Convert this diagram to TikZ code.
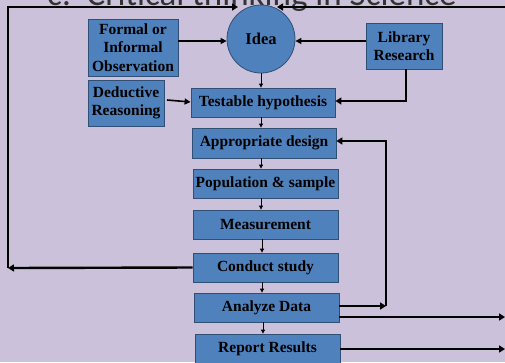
\documentclass[tikz,border=0pt]{standalone}
\usepackage{fontspec}
\setmainfont{Liberation Serif}
\newfontfamily\titlefont{Carlito}
\usetikzlibrary{arrows.meta}
\definecolor{bg}{HTML}{CBC1DB}
\definecolor{boxfill}{HTML}{4F81BD}
\definecolor{boxline}{HTML}{2F4F75}
\definecolor{titlegray}{HTML}{333333}
\tikzset{
  stepbox/.style={rectangle, draw=boxline, line width=0.8pt, fill=boxfill,
    font=\fontsize{15.5}{18.5}\selectfont\bfseries, align=center, inner sep=0pt},
  ideanode/.style={circle, draw=boxline, line width=0.8pt, fill=boxfill,
    font=\fontsize{16.5}{19}\selectfont\bfseries, minimum size=68pt, inner sep=0pt},
  thin arrow/.style={line width=0.8pt, -{Triangle[length=4pt,width=4pt]}},
  thick arrow/.style={line width=2.4pt, -{Triangle[length=6pt,width=7pt]}},
}
\begin{document}
\begin{tikzpicture}[x=1pt,y=-1pt]
\useasboundingbox[fill=bg] (0,0) rectangle (505,362);
\begin{scope}
\clip (0,0) rectangle (505,362);
\node[anchor=base west, font=\titlefont\fontsize{35}{40}\selectfont, text=titlegray, inner sep=0pt] (title) at (47,5) {c.\ \ Critical thinking in Science};

\node[ideanode] (idea) at (261,39) {Idea};
\node[stepbox, minimum width=90pt, minimum height=57pt] (obs) at (133,47.5) {Formal or\\Informal\\Observation};
\node[stepbox, minimum width=76pt, minimum height=46pt] (lib) at (404,46) {Library\\Research};
\node[stepbox, minimum width=76pt, minimum height=46pt] (ded) at (126,103) {Deductive\\Reasoning};
\node[stepbox, minimum width=144pt, minimum height=29pt] (hyp) at (263,102.5) {Testable hypothesis};
\node[stepbox, minimum width=144pt, minimum height=30pt] (des) at (264,143) {Appropriate design};
\node[stepbox, minimum width=145pt, minimum height=29pt] (pop) at (265.5,183.5) {Population \& sample};
\node[stepbox, minimum width=145pt, minimum height=29pt] (mea) at (265.5,224.5) {Measurement};
\node[stepbox, minimum width=145pt, minimum height=29pt] (con) at (265.5,267.5) {Conduct study};
\node[stepbox, minimum width=145pt, minimum height=29pt] (ana) at (266.5,307.5) {Analyze Data};
\node[stepbox, minimum width=145pt, minimum height=30pt] (rep) at (267.5,349) {Report Results};

\coordinate (lcorner) at (8,268);
\coordinate (ltop) at (8,7);
\coordinate (rtop) at (506,7);
\coordinate (rloop) at (386,306);
\coordinate (redge1) at (505,317);
\coordinate (redge2) at (505,349);

% chain
\draw[thin arrow] (idea.south) -- (idea.south |- hyp.north);
\draw[thin arrow] (hyp.south -| 261,0) -- (des.north -| 261,0);
\draw[thin arrow] (des.south -| 261,0) -- (pop.north -| 261,0);
\draw[thin arrow] (pop.south -| 261,0) -- (mea.north -| 261,0);
\draw[thin arrow] (mea.south -| 262,0) -- (con.north -| 262,0);
\draw[thin arrow] (con.south -| 262,0) -- (ana.north -| 262,0);
\draw[thin arrow] (ana.south -| 263,0) -- (rep.north -| 263,0);

% inputs
\draw[line width=1.6pt, -{Triangle[length=6pt,width=6pt]}] (obs.east |- 0,41) -- (idea.west |- 0,41);
\draw[line width=1.6pt, -{Triangle[length=6pt,width=6pt]}] (lib.west |- 0,41) -- (idea.east |- 0,41);
\draw[line width=1.6pt, -{Triangle[length=6pt,width=6pt]}] (167,100) -- (hyp.west |- 0,102);
\draw[thick arrow] (lib.south -| 406,0) -- (406,101) -- (hyp.east |- 0,101);

% feedback loops
\draw[thick arrow] (ana.east |- rloop) -- (rloop);
\draw[thick arrow] (rloop) -- (rloop |- 0,141) -- (des.east |- 0,141);
\draw[thick arrow] (con.west) -- (lcorner);
\draw[thick arrow] (lcorner) -- (ltop) -- (238,7);
\draw[thick arrow] (rtop) -- (277,7);
\draw[thick arrow] (ana.east |- redge1) -- (redge1);
\draw[thick arrow] (rep.east |- redge2) -- (redge2);
\end{scope}
\end{tikzpicture}
\end{document}
